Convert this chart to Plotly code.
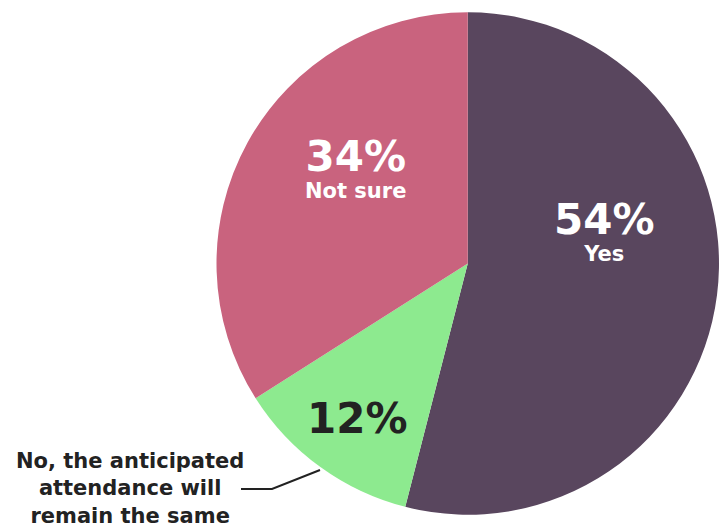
import plotly.graph_objects as go

# Survey answers, in clockwise order from 12 o'clock
categories = ["Yes", "No, the anticipated attendance will remain the same", "Not sure"]
short_names = ["Yes", "", "Not sure"]
values = [54, 12, 34]
colors = ["#59465E", "#8DEA8F", "#C9637E"]
value_text_colors = ["#FFFFFF", "#222222", "#FFFFFF"]

W, H = 719, 529
FONT = "DejaVu Sans, Verdana, sans-serif"

fig = go.Figure(
    go.Pie(
        labels=categories,
        values=values,
        marker=dict(colors=colors, line=dict(width=0)),
        sort=False,
        direction="clockwise",
        rotation=0,
        textinfo="none",
        hoverinfo="label+percent",
        showlegend=False,
        domain=dict(x=[216.5 / W, 1.0], y=[2 / H, 1.0]),
    )
)

# label anchor points (pixels from top-left): centre x, baseline of the value line
label_pos = [(604, 235), (357, 433), (355, 172)]


def px(x):
    return x / W


def py(y):
    return 1 - y / H


annotations = []
for v, name, tc, (lx, base) in zip(values, short_names, value_text_colors, label_pos):
    if name:
        text = f"<span style='font-size:42px'><b>{v}%</b></span><br><b>{name}</b>"
        # box bottom sits one line below the value baseline plus descent
        yb = base + 26 + 6
    else:
        text = f"<span style='font-size:42px'><b>{v}%</b></span>"
        yb = base + 11
    annotations.append(dict(
        x=px(lx), y=py(yb), xref="paper", yref="paper",
        text=text, showarrow=False, align="center",
        xanchor="center", yanchor="bottom", borderpad=0,
        font=dict(family=FONT, size=21, color=tc),
    ))

# outside label for the small slice, with an elbow leader line
annotations.append(dict(
    x=px(130), y=py(488), xref="paper", yref="paper",
    text="<b>No, the anticipated<br>attendance will<br>remain the same</b>",
    showarrow=False, xanchor="center", yanchor="middle", align="center",
    font=dict(family=FONT, size=21, color="#222222"),
))

fig.add_shape(
    type="path", xref="paper", yref="paper",
    path=f"M {px(241)} {py(489)} L {px(272)} {py(489)} L {px(320)} {py(470)}",
    line=dict(color="#222222", width=2),
)

fig.update_layout(
    width=W, height=H,
    margin=dict(l=0, r=0, t=0, b=0),
    paper_bgcolor="white",
    plot_bgcolor="white",
    annotations=annotations,
)

fig.write_html("out.html")
